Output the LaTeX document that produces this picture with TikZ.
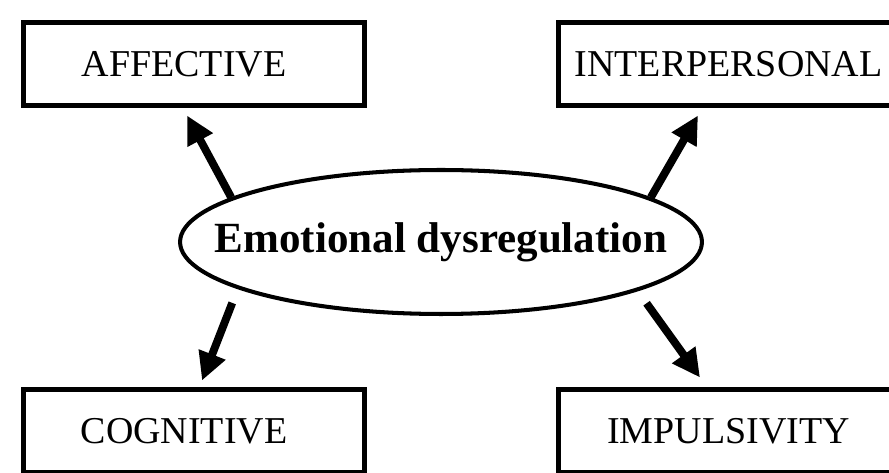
\documentclass[tikz,border=0pt]{standalone}
\usepackage{fontspec}
\setmainfont{Liberation Serif}
\usetikzlibrary{arrows.meta,shapes.geometric,calc}

\begin{document}
\begin{tikzpicture}[
  x=0.02cm, y=0.02cm,
  facet/.style={rectangle,draw,line width=2.8pt,minimum width=6.82cm,minimum height=1.66cm,inner sep=0pt,font=\fontsize{21.6}{26}\selectfont},
  leftfacet/.style={facet,execute at begin node={\kern-0.4cm}},
  core/.style={ellipse,draw,line width=2.3pt,minimum width=10.44cm,minimum height=2.88cm,inner xsep=-1.2cm,inner ysep=0pt,font=\fontsize{24.5}{29}\selectfont\bfseries},
  arr/.style={line width=4.5pt,-{Triangle[length=0.56cm,width=0.54cm]}}
]
  \useasboundingbox (0,0) rectangle (889,473);
  \node[core] (emo) at (441,231) {Emotional dysregulation};
  \node[leftfacet] (aff) at (194,409) {AFFECTIVE};
  \node[facet] (inter) at (728.5,409) {INTERPERSONAL};
  \node[leftfacet] (cog) at (194,42) {COGNITIVE};
  \node[facet] (imp) at (728.5,42) {IMPULSIVITY};
  \draw[arr] (emo.168) -- ($(aff.south)+(-7,-7.5)$);
  \draw[arr] (emo.12) -- ($(inter.south)+(-30.5,-7.5)$);
  \draw[arr,shorten <=0.3cm] (emo.193.5) -- ($(cog.north)+(8,6.5)$);
  \draw[arr,shorten <=0.3cm] (emo.346.5) -- ($(imp.north)+(-28.5,9.5)$);
\end{tikzpicture}
\end{document}
